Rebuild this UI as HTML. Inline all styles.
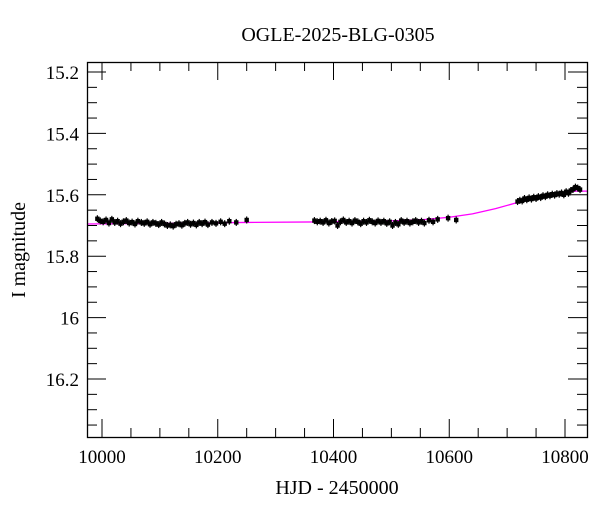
<!DOCTYPE html>
<html><head><meta charset="utf-8"><style>
body{margin:0;background:#fff}
svg text{font-family:"Liberation Serif",serif;fill:#000}
</style></head><body>
<svg width="600" height="512" xmlns="http://www.w3.org/2000/svg">
<text x="338" y="41" font-size="20" text-anchor="middle">OGLE-2025-BLG-0305</text>
<text x="337" y="494" font-size="20" text-anchor="middle">HJD - 2450000</text>
<text x="25" y="250" font-size="20" text-anchor="middle" transform="rotate(-90 25 250)">I magnitude</text>
<g id="ticks"></g>
<g id="model"></g>
<g id="pts"></g>
<rect x="87.5" y="62.5" width="500" height="375" fill="none" stroke="#000" stroke-width="1.3"/>
</svg>
<script>
const xTicks=[10000,10200,10400,10600,10800];
const yTicks=[15.2,15.4,15.6,15.8,16,16.2];
const obsHJD=[9992,9997,10002,10007,10012,10017,10022,10027,10032,10037,10042,10047,10052,10057,10062,10068,10073,10078,10083,10088,10093,10098,10103,10108,10113,10118,10123,10128,10133,10138,10143,10148,10153,10158,10163,10168,10173,10178,10183,10190,10197,10205,10212,10220,10232,10250,
10367,10372,10377,10382,10387,10392,10397,10402,10407,10412,10417,10422,10427,10432,10437,10442,10447,10452,10457,10462,10467,10472,10477,10482,10487,10492,10497,10502,10507,10512,10517,10522,10527,10532,10537,10542,10547,10552,10557,10565,10572,10580,10598,10612,
10718,10722,10726,10730,10734,10738,10742,10746,10750,10754,10758,10762,10766,10770,10774,10778,10782,10786,10790,10794,10798,10802,10806,10810,10814,10818,10822,10826];
const obsMag=[15.678,15.685,15.688,15.682,15.692,15.680,15.690,15.686,15.694,15.688,15.684,15.692,15.689,15.695,15.686,15.690,15.693,15.688,15.696,15.690,15.693,15.697,15.690,15.695,15.700,15.698,15.702,15.696,15.694,15.699,15.693,15.690,15.696,15.692,15.698,15.690,15.694,15.689,15.697,15.690,15.693,15.688,15.694,15.686,15.690,15.682,
15.684,15.688,15.686,15.690,15.683,15.692,15.687,15.685,15.700,15.688,15.682,15.690,15.686,15.692,15.684,15.688,15.694,15.686,15.690,15.683,15.688,15.692,15.685,15.690,15.686,15.693,15.688,15.700,15.690,15.696,15.684,15.690,15.686,15.692,15.688,15.684,15.690,15.686,15.692,15.683,15.688,15.680,15.676,15.682,
15.622,15.618,15.620,15.612,15.616,15.610,15.614,15.608,15.612,15.606,15.609,15.603,15.606,15.600,15.603,15.598,15.601,15.596,15.598,15.594,15.600,15.590,15.595,15.586,15.582,15.575,15.578,15.583];
const modelHJD=[9974,10100,10250,10400,10500,10560,10600,10640,10680,10720,10750,10780,10800,10820,10838];
const modelMag=[15.695,15.693,15.690,15.688,15.685,15.680,15.673,15.662,15.645,15.624,15.609,15.597,15.591,15.588,15.588];
const X=v=>102+(v-10000)*(463/800);
const Y=m=>72+(m-15.2)*307;
const NS="http://www.w3.org/2000/svg";
function mk(t,a,p){const e=document.createElementNS(NS,t);for(const k in a)e.setAttribute(k,a[k]);p.appendChild(e);return e;}
const tg=document.getElementById('ticks');
for(let v=9950;v<=10850;v+=50){const x=X(v);if(x<88||x>587)continue;const maj=v%200===0;const L=maj?18:9;
 const t1=mk('line',{x1:x,x2:x,y1:437,y2:437-L,stroke:'#000','stroke-width':1},tg);
 const t2=mk('line',{x1:x,x2:x,y1:62,y2:62+L,stroke:'#000','stroke-width':1},tg);}
xTicks.forEach(v=>{const t=mk('text',{x:X(v),y:463,'font-size':19,'text-anchor':'middle'},tg);t.textContent=v;});
for(let i=0;i<=24;i++){const m=15.15+i*0.05;const y=Y(m);if(y<63||y>436)continue;const k=Math.round(m*20);const maj=k%4===0;const L=maj?19:10;
 const t1=mk('line',{x1:87,x2:87+L,y1:y,y2:y,stroke:'#000','stroke-width':1},tg);
 const t2=mk('line',{x1:587,x2:587-L,y1:y,y2:y,stroke:'#000','stroke-width':1},tg);}
yTicks.forEach(v=>{const t=mk('text',{x:79,y:Y(v)+7,'font-size':19,'text-anchor':'end'},tg);t.textContent=String(v);});
const mg=document.getElementById('model');
const pl=mk('polyline',{points:modelHJD.map((h,i)=>X(h)+','+Y(modelMag[i])).join(' '),fill:'none',stroke:'#ff00ff','stroke-width':1.3},mg);

const pg=document.getElementById('pts');
obsHJD.forEach((h,i)=>{const x=X(h),y=Y(obsMag[i]);
 const r=mk('rect',{x:x-2.2,y:y-2.2,width:4.4,height:4.4,fill:'#000'},pg);
 const e=mk('line',{x1:x,x2:x,y1:y-3.5,y2:y+3.5,stroke:'#000','stroke-width':1.2},pg);});
</script>
</body></html>
